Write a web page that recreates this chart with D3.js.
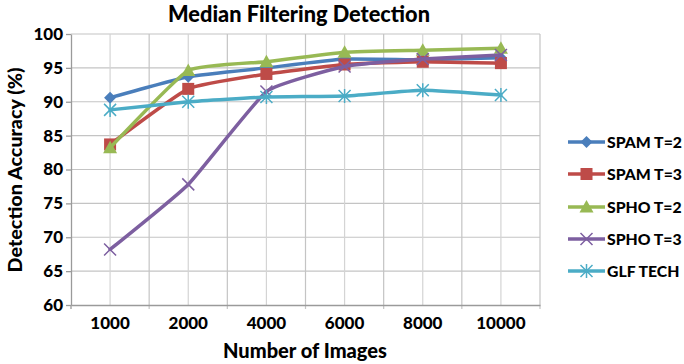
<!DOCTYPE html>
<html>
<head>
<meta charset="utf-8">
<script src="https://cdn.jsdelivr.net/npm/d3@7"></script>
<style>
  html, body { margin: 0; padding: 0; background: #fff; }
  svg { display: block; font-family: Lato, "Open Sans", sans-serif; font-weight: 900; }
</style>
</head>
<body>
<svg id="chart" width="684" height="364"></svg>
<script>
// Image counts along the x axis
const categories = ["1000", "2000", "4000", "6000", "8000", "10000"];

// Detection accuracy (%) per method
const spamT2 = [90.6, 93.7, 95.0, 96.3, 96.2, 96.5];
const spamT3 = [83.7, 91.9, 94.1, 95.5, 95.9, 95.7];
const sphoT2 = [83.2, 94.6, 95.9, 97.3, 97.6, 97.9];
const sphoT3 = [68.2, 77.8, 91.5, 95.2, 96.3, 96.9];
const glfTech = [88.8, 90.0, 90.7, 90.85, 91.7, 91.0];

const seriesNames = ["SPAM T=2", "SPAM T=3", "SPHO T=2", "SPHO T=3", "GLF TECH"];
const seriesColors = ["#4A7EBB", "#BE4B48", "#98B954", "#7D5FA0", "#4BACC6"];
const seriesMarkers = ["diamond", "square", "triangle", "cross", "asterisk"];
const yTicks = [60, 65, 70, 75, 80, 85, 90, 95, 100];

const series = [spamT2, spamT3, sphoT2, sphoT3, glfTech].map((values, i) => ({
  name: seriesNames[i], color: seriesColors[i], marker: seriesMarkers[i], values
}));

const svg = d3.select("#chart");
const plot = { left: 71, right: 540, top: 34, bottom: 305 };

const x = d3.scaleBand().domain(categories).range([plot.left, plot.right]);
const y = d3.scaleLinear().domain([60, 100]).range([plot.bottom, plot.top]);
const cx = c => x(c) + x.bandwidth() / 2;

// Scale a text's font size so it spans the given width
function fitWidth(sel, width) {
  const fs = parseFloat(sel.attr("font-size"));
  const w = sel.node().getComputedTextLength();
  if (w > 0) sel.attr("font-size", (fs * width / w).toFixed(2));
  return sel;
}

// Gridlines: horizontal at each tick, vertical at band edges and centres
const grid = svg.append("g").attr("stroke", "#c4c4c4").attr("stroke-width", 1.2);
yTicks.filter(t => t > 60).forEach(t => {
  grid.append("line").attr("x1", plot.left).attr("x2", plot.right)
    .attr("y1", y(t)).attr("y2", y(t));
});
const edges = categories.map(c => x(c)).concat([plot.right]).slice(1);
edges.forEach(e => {
  grid.append("line").attr("x1", e).attr("x2", e).attr("y1", plot.top).attr("y2", plot.bottom + 4);
});
categories.forEach(c => {
  grid.append("line").attr("stroke", "#d4d4d4").attr("x1", cx(c)).attr("x2", cx(c))
    .attr("y1", plot.top).attr("y2", plot.bottom);
});

// Axes
const yAxis = svg.append("g").attr("transform", `translate(${plot.left},0)`)
  .call(d3.axisLeft(y).tickValues(yTicks).tickSize(5).tickPadding(3).tickSizeOuter(0));
yAxis.select(".domain").attr("stroke", "#9a9a9a").attr("stroke-width", 1.3);
yAxis.selectAll(".tick line").attr("stroke", "#9a9a9a").attr("stroke-width", 1.3);
yAxis.selectAll("text").attr("font-size", 17).attr("font-weight", 900)
  .attr("font-family", "Lato, sans-serif").attr("fill", "#000");

const xAxis = svg.append("g").attr("transform", `translate(0,${plot.bottom})`)
  .call(d3.axisBottom(x).tickSize(0).tickPadding(12).tickSizeOuter(0));
xAxis.select(".domain").attr("stroke", "#9a9a9a").attr("stroke-width", 1.3);
xAxis.selectAll("text").attr("font-size", 17).attr("font-weight", 900)
  .attr("font-family", "Lato, sans-serif").attr("fill", "#000");
svg.append("line").attr("x1", plot.left).attr("x2", plot.left)
  .attr("y1", plot.bottom).attr("y2", plot.bottom + 4)
  .attr("stroke", "#9a9a9a").attr("stroke-width", 1.3);

// Marker shapes
function drawMarker(g, type, color, px, py) {
  if (type === "diamond") {
    g.append("path").attr("d", `M${px},${py - 6}L${px + 6},${py}L${px},${py + 6}L${px - 6},${py}Z`).attr("fill", color);
  } else if (type === "square") {
    g.append("rect").attr("x", px - 6).attr("y", py - 6).attr("width", 12).attr("height", 12).attr("fill", color);
  } else if (type === "triangle") {
    g.append("path").attr("d", `M${px},${py - 7}L${px + 7},${py + 5.5}L${px - 7},${py + 5.5}Z`).attr("fill", color);
  } else if (type === "cross") {
    g.append("path").attr("d", `M${px - 6},${py - 6}L${px + 6},${py + 6}M${px - 6},${py + 6}L${px + 6},${py - 6}`)
      .attr("stroke", color).attr("stroke-width", 1.5);
  } else if (type === "asterisk") {
    g.append("path").attr("d", `M${px - 6},${py - 6}L${px + 6},${py + 6}M${px - 6},${py + 6}L${px + 6},${py - 6}M${px},${py - 7}L${px},${py + 7}`)
      .attr("stroke", color).attr("stroke-width", 1.5);
  }
}

// Lightly smoothed series lines
const line = d3.line()
  .x((d, i) => cx(categories[i]))
  .y(d => y(d))
  .curve(d3.curveCardinal.tension(0.6));

series.forEach(s => {
  const g = svg.append("g");
  g.append("path").datum(s.values).attr("d", line)
    .attr("fill", "none").attr("stroke", s.color).attr("stroke-width", 3.5)
    .attr("stroke-linejoin", "round").attr("stroke-linecap", "round");
  s.values.forEach((v, i) => drawMarker(g, s.marker, s.color, cx(categories[i]), y(v)));
});

// Legend: size fitted on the first label, shared by the rest
const legendRows = [142, 174, 207, 239, 271];
const legendLabels = series.map((s, i) => {
  const g = svg.append("g");
  const ly = legendRows[i];
  g.append("line").attr("x1", 568).attr("x2", 605).attr("y1", ly).attr("y2", ly)
    .attr("stroke", s.color).attr("stroke-width", 3.5);
  drawMarker(g, s.marker, s.color, 586.5, ly);
  return g.append("text").attr("x", 607).attr("y", ly).attr("dy", "0.35em")
    .attr("font-size", 14.5).attr("fill", "#000").text(s.name);
});
fitWidth(legendLabels[0], 75);
const legendSize = legendLabels[0].attr("font-size");
legendLabels.forEach(t => t.attr("font-size", legendSize));

// Titles
fitWidth(svg.append("text").attr("x", 299).attr("y", 22).attr("text-anchor", "middle")
  .attr("font-size", 18).attr("fill", "#000").text("Median Filtering Detection"), 262);
fitWidth(svg.append("text").attr("x", 305).attr("y", 358).attr("text-anchor", "middle")
  .attr("font-size", 16.5).attr("fill", "#000").text("Number of Images"), 164);
fitWidth(svg.append("text").attr("transform", "translate(22,170) rotate(-90)").attr("text-anchor", "middle")
  .attr("font-size", 16).attr("fill", "#000").text("Detection Accuracy (%)"), 205);
</script>
</body>
</html>
